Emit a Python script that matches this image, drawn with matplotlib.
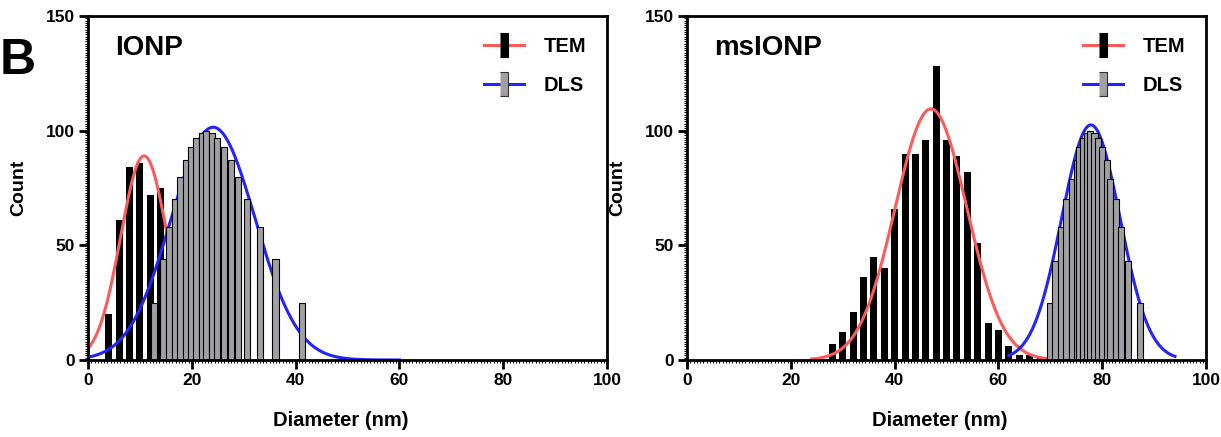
import numpy as np
import matplotlib
matplotlib.use("Agg")
import matplotlib.pyplot as plt
from matplotlib.lines import Line2D
from matplotlib.ticker import MultipleLocator

# IONP size histograms (diameter in nm, count)
ionp_tem_d = [4, 6, 8, 10, 12, 14]
ionp_tem_n = [20, 61, 84, 86, 72, 75]
ionp_dls_d = [12.7, 14.5, 15.6, 16.8, 17.8, 18.8, 19.9, 20.8, 21.9, 22.8,
              23.9, 24.9, 26.2, 27.5, 28.9, 30.7, 33.1, 36.1, 41.2]
ionp_dls_n = [25, 44, 58, 70, 80, 87, 93, 97, 99, 100,
              99, 97, 93, 87, 80, 70, 58, 44, 25]

# msIONP size histograms
msionp_tem_d = [28, 30, 32, 34, 36, 38, 40, 42, 44, 46, 48,
                50, 52, 54, 56, 58, 60, 62, 64, 66, 68]
msionp_tem_n = [7, 12, 21, 36, 45, 40, 66, 90, 90, 96, 128,
                96, 89, 82, 51, 16, 13, 6, 2, 2, 1]
msionp_dls_d = [69.9, 71.0, 72.0, 73.0, 74.1, 75.1, 75.6, 76.3, 77.0, 77.7,
                78.5, 79.2, 80.0, 80.9, 81.5, 82.6, 83.6, 85.0, 87.2]
msionp_dls_n = [25, 43, 58, 70, 79, 87, 93, 97, 99, 100,
                99, 97, 93, 87, 79, 70, 58, 43, 25]

# gaussian fits: (centre, sd, height, from, to)
ionp_tem_fit = (10.8, 4.5, 89, 0, 28)
ionp_dls_fit = (24.1, 8.1, 101.5, 0, 60)
msionp_tem_fit = (47.0, 6.9, 109.5, 24, 71)
msionp_dls_fit = (77.8, 5.6, 102.5, 62, 94)

plt.rcParams['font.family'] = ['Liberation Sans', 'DejaVu Sans']
plt.rcParams['font.weight'] = 'bold'

RED = '#ff5a5a'
BLUE = '#2323ff'
GRAY = '#a0a0a4'
BAR_MARKER = [(-0.33, -1), (0.33, -1), (0.33, 1), (-0.33, 1)]


def gauss_curve(fit):
    mu, sd, amp, x0, x1 = fit
    x = np.linspace(x0, x1, 400)
    return x, amp * np.exp(-0.5 * ((x - mu) / sd) ** 2)


def draw_panel(ax, title, tem_d, tem_n, dls_d, dls_n, tem_fit, dls_fit):
    ax.bar(tem_d, tem_n, width=1.35, color='black', zorder=2)
    x, y = gauss_curve(tem_fit)
    ax.plot(x, y, color=RED, lw=2.2, zorder=3)
    x, y = gauss_curve(dls_fit)
    ax.plot(x, y, color=BLUE, lw=2.2, zorder=3)
    ax.bar(dls_d, dls_n, width=1.2, color=GRAY, edgecolor='black',
           linewidth=0.8, zorder=4)

    ax.set_xlim(0, 100)
    ax.set_ylim(0, 150)
    ax.set_xticks(range(0, 101, 20))
    ax.set_yticks([0, 50, 100, 150])
    ax.xaxis.set_minor_locator(MultipleLocator(20 / 32))
    ax.yaxis.set_minor_locator(MultipleLocator(1))
    ax.tick_params(which='major', direction='out', length=6.5, width=2,
                   labelsize=12.5, pad=3)
    ax.tick_params(which='minor', direction='out', length=2, width=0.8)
    for s in ax.spines.values():
        s.set_linewidth(2)
        s.set_zorder(5)

    ax.set_xlabel('Diameter (nm)', fontsize=14.5, fontweight='bold')
    ax.xaxis.set_label_coords(0.487, -0.148)
    ax.set_ylabel('Count', fontsize=14, fontweight='bold')
    ax.yaxis.set_label_coords(-0.117, 0.5)

    ax.text(0.052, 0.907, title, transform=ax.transAxes, fontsize=20,
            fontweight='bold', va='center', ha='left')

    handles = [
        Line2D([0], [0], color=RED, lw=2.2, marker=BAR_MARKER, markersize=17,
               markerfacecolor='black', markeredgecolor='black', markeredgewidth=0.8),
        Line2D([0], [0], color=BLUE, lw=2.2, marker=BAR_MARKER, markersize=17,
               markerfacecolor=GRAY, markeredgecolor='#333333', markeredgewidth=0.8),
    ]
    ax.legend(handles, ['TEM', 'DLS'], loc='upper left',
              bbox_to_anchor=(0.762, 0.939), frameon=False, fontsize=14.5,
              handlelength=2.0, handletextpad=1.0, labelspacing=1.0,
              borderpad=0, borderaxespad=0, numpoints=1)


fig = plt.figure(figsize=(12.21, 4.37), dpi=100)
ax1 = fig.add_axes([0.0721, 0.1762, 0.4251, 0.7872])
ax2 = fig.add_axes([0.5627, 0.1762, 0.4251, 0.7872])

draw_panel(ax1, 'IONP', ionp_tem_d, ionp_tem_n, ionp_dls_d, ionp_dls_n,
           ionp_tem_fit, ionp_dls_fit)
draw_panel(ax2, 'msIONP', msionp_tem_d, msionp_tem_n, msionp_dls_d, msionp_dls_n,
           msionp_tem_fit, msionp_dls_fit)

fig.text(0.0, 0.86, 'B', fontsize=36, fontweight='bold', va='center', ha='left')

fig.savefig('out.png', dpi=100)
